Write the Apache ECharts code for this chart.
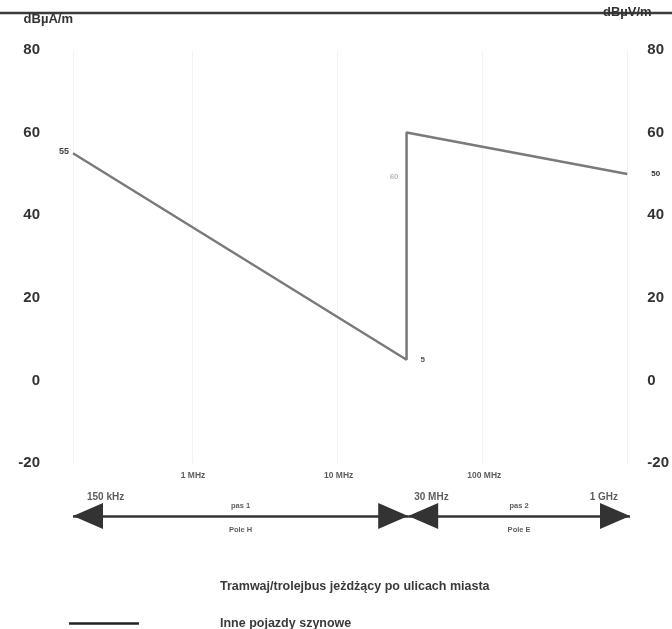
<!DOCTYPE html>
<html>
<head>
<meta charset="utf-8">
<script src="https://cdn.jsdelivr.net/npm/echarts@6/dist/echarts.min.js"></script>
<style>
  html, body { margin: 0; padding: 0; background: #fff; }
  #main { width: 672px; height: 629px; }
</style>
</head>
<body>
<div id="main"></div>
<script>
// 限值曲线数据 (频率 Hz / dB)
const freqs = [1.5e5, 3e7, 3e7, 1e9];
const limits = [55, 5, 60, 50];
const pointLabels = ['55', '5', '60', '50'];

// 频率标注
const tickFreqs = [1e6, 1e7, 1e8];
const tickNames = ['1 MHz', '10 MHz', '100 MHz'];
const edgeFreqs = [1.5e5, 3e7, 1e9];
const edgeNames = ['150 kHz', '30 MHz', '1 GHz'];

// 频段
const bandFrom = [1.5e5, 3e7];
const bandTo = [3e7, 1e9];
const bandNames = ['pas 1', 'pas 2'];
const bandFields = ['Pole H', 'Pole E'];

// 坐标轴刻度
const yMin = -20;
const yMax = 80;
const yStep = 20;

const seriesNames = ['Tramwaj/trolejbus jeżdżący po ulicach miasta', 'Inne pojazdy szynowe'];

const font = 'Liberation Sans';
const myChart = echarts.init(document.getElementById('main'));

// 点标签样式
const pointLabelStyle = [
  {position: 'left', distance: 4, offset: [0, -2], color: '#444', fontSize: 9},
  {position: 'right', distance: 14, color: '#555', fontSize: 8},
  {position: 'left', distance: 8, offset: [0, 44], color: '#bbb', fontSize: 8},
  {position: 'right', distance: 24, color: '#333', fontSize: 8}
];

const lineData = freqs.map((f, i) => ({
  value: [f, limits[i]],
  label: Object.assign({
    show: true,
    formatter: pointLabels[i],
    fontFamily: font,
    fontWeight: 'bold'
  }, pointLabelStyle[i])
}));

const edgeAlign = ['left', 'left', 'right'];
const edgeOffset = [[14, 0], [6, 0], [-12, 0]];

const logAxis = (gridIndex, split) => ({
  type: 'log',
  gridIndex: gridIndex,
  min: bandFrom[0],
  max: bandTo[1],
  axisLine: {show: false},
  axisTick: {show: false},
  axisLabel: {show: false},
  splitLine: {show: split, lineStyle: {color: '#f3f3f3', width: 1}}
});

const valueAxis = (pos, name, gap) => ({
  type: 'value',
  gridIndex: 0,
  position: pos,
  min: yMin,
  max: yMax,
  interval: yStep,
  name: name,
  nameLocation: 'end',
  nameGap: gap,
  nameTextStyle: {
    fontFamily: font, fontSize: 13, fontWeight: 'bold', color: '#333',
    align: pos === 'left' ? 'right' : 'center'
  },
  axisLine: {show: false},
  axisTick: {show: false},
  splitLine: {show: false},
  axisLabel: {
    fontFamily: font, fontSize: 15, fontWeight: 'bold', color: '#333',
    margin: pos === 'left' ? 33 : 20
  }
});

const legendIcon = 'path://M0,0 L68,0 L68,2.5 L0,2.5 Z';

myChart.setOption({
  backgroundColor: '#fff',
  animation: false,
  graphic: [{
    type: 'line',
    shape: {x1: 0, y1: 13, x2: 672, y2: 13},
    style: {stroke: '#3a3a3a', lineWidth: 2.5}
  }],
  grid: [
    {left: 73, right: 42, top: 50, height: 413},
    {left: 73, right: 42, top: 466, height: 80}
  ],
  xAxis: [logAxis(0, true), logAxis(1, false)],
  yAxis: [
    valueAxis('left', 'dBµA/m', 24),
    valueAxis('right', 'dBµV/m', 31),
    {type: 'value', gridIndex: 1, min: 0, max: 80, inverse: true, show: false}
  ],
  legend: {
    orient: 'vertical',
    left: 64,
    top: 575,
    height: 60,
    itemWidth: 70,
    itemHeight: 3,
    itemGap: 24,
    data: [
      {name: seriesNames[0], icon: legendIcon, itemStyle: {color: 'rgba(0,0,0,0)'}},
      {name: seriesNames[1], icon: legendIcon, itemStyle: {color: '#222'}}
    ],
    formatter: n => '{t|' + n + '}',
    textStyle: {
      rich: {
        t: {padding: [0, 0, 0, 76], fontFamily: font, fontSize: 12.5, fontWeight: 'bold', color: '#3a3a3a'}
      }
    }
  },
  series: [
    {
      name: seriesNames[0],
      type: 'line',
      data: []
    },
    {
      name: seriesNames[1],
      type: 'line',
      xAxisIndex: 0,
      yAxisIndex: 0,
      symbol: 'circle',
      symbolSize: 0,
      lineStyle: {color: '#7a7a7a', width: 2.5},
      itemStyle: {color: '#7a7a7a'},
      data: lineData
    },
    {
      type: 'scatter',
      xAxisIndex: 1,
      yAxisIndex: 2,
      symbolSize: 0,
      silent: true,
      data: tickFreqs.map((f, i) => ({value: [f, 10], name: tickNames[i]})),
      label: {show: true, position: 'inside', formatter: '{b}', fontFamily: font, fontSize: 8.5, fontWeight: 'bold', color: '#333'}
    },
    {
      type: 'scatter',
      xAxisIndex: 1,
      yAxisIndex: 2,
      symbolSize: 0,
      silent: true,
      data: edgeFreqs.map((f, i) => ({
        value: [f, 31],
        name: edgeNames[i],
        label: {align: edgeAlign[i], offset: edgeOffset[i]}
      })),
      label: {show: true, position: 'inside', formatter: '{b}', fontFamily: font, fontSize: 10, fontWeight: 'bold', color: '#333'}
    },
    {
      type: 'scatter',
      xAxisIndex: 1,
      yAxisIndex: 2,
      symbolSize: 0,
      silent: true,
      data: bandFrom.map((f, i) => ({value: [Math.sqrt(f * bandTo[i]), 40], name: bandNames[i]})),
      label: {show: true, position: 'inside', formatter: '{b}', fontFamily: font, fontSize: 7.5, fontWeight: 'bold', color: '#333'}
    },
    {
      type: 'scatter',
      xAxisIndex: 1,
      yAxisIndex: 2,
      symbolSize: 0,
      silent: true,
      data: bandFrom.map((f, i) => ({value: [Math.sqrt(f * bandTo[i]), 64], name: bandFields[i]})),
      label: {show: true, position: 'inside', formatter: '{b}', fontFamily: font, fontSize: 7.5, fontWeight: 'bold', color: '#333'}
    },
    {
      type: 'line',
      xAxisIndex: 1,
      yAxisIndex: 2,
      data: [],
      markLine: {
        silent: true,
        symbol: ['triangle', 'triangle'],
        symbolSize: [26, 30],
        symbolOffset: [[0, 15], [0, 15]],
        label: {show: false},
        lineStyle: {color: '#333', width: 2.5, type: 'solid'},
        data: bandFrom.map((f, i) => [{coord: [f, 50]}, {coord: [bandTo[i], 50]}])
      }
    }
  ]
});
</script>
</body>
</html>
